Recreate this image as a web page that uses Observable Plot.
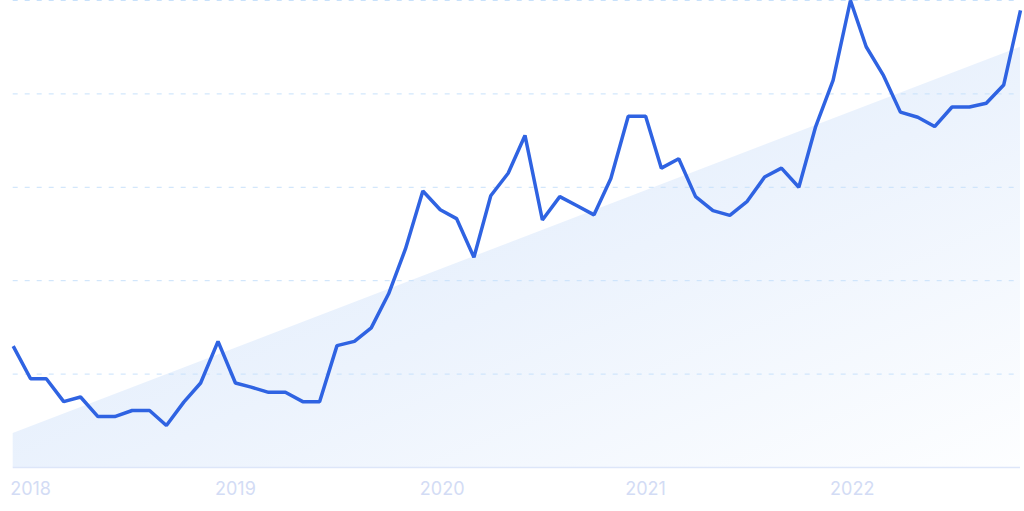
<!DOCTYPE html>
<html>
<head>
<meta charset="utf-8">
<script src="https://cdn.jsdelivr.net/npm/d3@7"></script>
<script src="https://cdn.jsdelivr.net/npm/@observablehq/plot@0.6"></script>
<style>
  html, body { margin: 0; padding: 0; background: #ffffff; }
  #chart svg { display: block; }
</style>
</head>
<body>
<div id="chart"></div>
<script>
// Monthly interest, Jan 2018 – Dec 2022 (0–100 scale)
const values = [
  26, 19, 19, 14.1, 15.1, 10.9, 10.9, 12.2, 12.2, 9.0, 14.0, 18.1,
  27, 18.1, 17.2, 16.1, 16.1, 14.1, 14.1, 26.1, 27, 29.9, 37.2, 46.8,
  59.2, 55.2, 53.3, 45, 58.2, 63, 71.1, 53, 58, 56.1, 54.1, 61.9,
  75.2, 75.2, 64.1, 66.1, 58, 55, 54, 57, 62.2, 64.1, 60, 73,
  82.9, 100, 90.1, 83.9, 76.1, 75, 73, 77.2, 77.2, 78, 81.9, 97.9
];
const startYear = 2018;
const trendValues = [7.3, 90];           // linear trend: first and last month
const gridValues = [20, 40, 60, 80, 100];
const yearLabels = ["2018", "2019", "2020", "2021", "2022"];

const series = values.map((v, i) => ({date: new Date(Date.UTC(startYear, i, 1)), value: v}));
const trend = [
  {date: series[0].date, value: trendValues[0]},
  {date: series[series.length - 1].date, value: trendValues[1]}
];
const years = yearLabels.map(y => ({date: new Date(Date.UTC(+y, 0, 1)), label: y}));

const defs = () => {
  const d = d3.create("svg:defs");
  const g = d.append("linearGradient").attr("id", "trendGrad")
    .attr("x1", "0").attr("y1", "0").attr("x2", "1").attr("y2", "1");
  g.append("stop").attr("offset", "0%").attr("stop-color", "#d9e8fb");
  g.append("stop").attr("offset", "55%").attr("stop-color", "#ecf3fd");
  g.append("stop").attr("offset", "100%").attr("stop-color", "#fdfeff");
  return d.node();
};

const chart = Plot.plot({
  width: 1024,
  height: 511,
  marginLeft: 12.7,
  marginRight: 4,
  marginTop: 0,
  marginBottom: 44,
  style: {background: "#ffffff", fontFamily: "Inter, sans-serif", overflow: "visible"},
  x: {type: "utc", domain: [series[0].date, series[series.length - 1].date], axis: null},
  y: {domain: [0, 100], axis: null},
  marks: [
    defs,
    Plot.areaY(trend, {x: "date", y: "value", fill: "url(#trendGrad)"}),
    Plot.ruleY(gridValues, {stroke: "#c8e1fb", strokeWidth: 1, strokeDasharray: "5,7"}),
    Plot.ruleY([0], {stroke: "#dde6f9", strokeWidth: 1.5, x1: series[0].date, x2: series[series.length - 1].date}),
    Plot.line(series, {x: "date", y: "value", stroke: "#2f63e2", strokeWidth: 3.5, strokeLinejoin: "miter", strokeLinecap: "butt"}),
    Plot.text(years, {x: "date", y: 0, text: "label", dy: 22, dx: -3, textAnchor: "start", lineAnchor: "middle", fill: "#d3dcf5", fontSize: 18})
  ]
});

document.getElementById("chart").appendChild(chart);
</script>
</body>
</html>
